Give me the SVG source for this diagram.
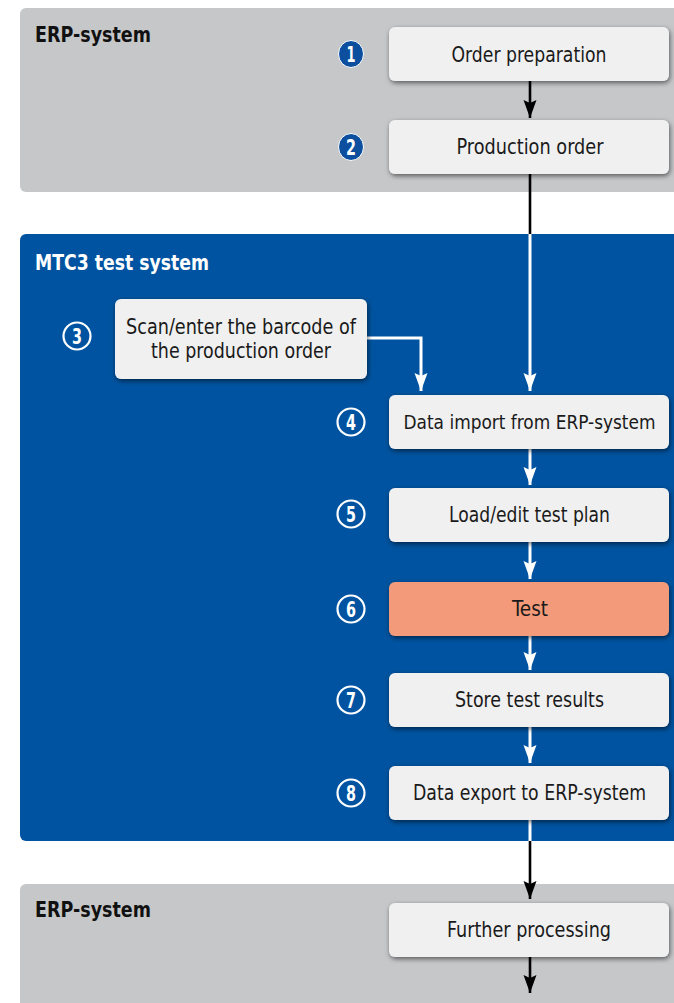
<svg xmlns="http://www.w3.org/2000/svg" width="674" height="1003" viewBox="0 0 674 1003">
<style>
.panel-gray{fill:#c6c7c9}
.panel-blue{fill:#0053a0}
.node{fill:#f0f0f0}
.node-test{fill:#f29a79}
.t{font-family:"Liberation Sans Narrow","DejaVu Sans Condensed","Liberation Sans",Arial,sans-serif;font-stretch:condensed;font-size:21px;fill:#1a1a1a;text-anchor:middle}
.t4{font-size:20px}
.title{font-family:"Liberation Sans Narrow","DejaVu Sans Condensed","Liberation Sans",Arial,sans-serif;font-stretch:condensed;font-size:22px;font-weight:bold}
.num{font-family:"Liberation Sans Narrow","DejaVu Sans Condensed","Liberation Sans",Arial,sans-serif;font-stretch:condensed;font-size:21px;font-weight:bold;fill:#fff;text-anchor:middle}
.cfill{fill:#0b4f9e;stroke:#fff;stroke-width:1}
.cline{fill:none;stroke:#fff;stroke-width:2.2}
.lb{stroke:#000;stroke-width:2.6;fill:none}
.lw{stroke:#fff;stroke-width:3;fill:none}
</style>
<defs>
<filter id="sh" x="-10%" y="-20%" width="120%" height="150%">
<feDropShadow dx="1" dy="2" stdDeviation="2.5" flood-color="#000" flood-opacity="0.55"/>
</filter>
<marker id="aw" markerUnits="userSpaceOnUse" markerWidth="20" markerHeight="16" refX="18" refY="7" orient="auto">
<path d="M0,0.5 L18,7 L0,13.5 L3,7 Z" fill="#fff"/>
</marker>
<marker id="ab2" markerUnits="userSpaceOnUse" markerWidth="20" markerHeight="16" refX="18" refY="7" orient="auto">
<path d="M0,0.5 L18,7 L0,13.5 L3,7 Z" fill="#000"/>
</marker>
</defs>

<g id="panel-erp-top">
<rect class="panel-gray" x="20" y="8" width="670" height="184" rx="6"/>
<text class="title" x="35" y="42" fill="#111" textLength="116" lengthAdjust="spacingAndGlyphs">ERP-system</text>
</g>
<g id="panel-mtc3">
<rect class="panel-blue" x="20" y="234" width="670" height="607" rx="6"/>
<text class="title" x="35" y="270" fill="#fff" textLength="174" lengthAdjust="spacingAndGlyphs">MTC3 test system</text>
</g>
<g id="panel-erp-bottom">
<rect class="panel-gray" x="20" y="884" width="670" height="130" rx="6"/>
<text class="title" x="35" y="917" fill="#111" textLength="116" lengthAdjust="spacingAndGlyphs">ERP-system</text>
</g>

<g id="connectors">
<line class="lb" x1="530" y1="81" x2="530" y2="118" marker-end="url(#ab2)"/>
<line class="lb" x1="530" y1="174" x2="530" y2="236"/>
<line class="lw" x1="530" y1="234" x2="530" y2="391" marker-end="url(#aw)"/>
<polyline class="lw" points="367,338 421,338 421,391" marker-end="url(#aw)"/>
<line class="lw" x1="530" y1="449" x2="530" y2="485" marker-end="url(#aw)"/>
<line class="lw" x1="530" y1="542" x2="530" y2="579" marker-end="url(#aw)"/>
<line class="lw" x1="530" y1="636" x2="530" y2="670" marker-end="url(#aw)"/>
<line class="lw" x1="530" y1="727" x2="530" y2="763" marker-end="url(#aw)"/>
<line class="lw" x1="530" y1="820" x2="530" y2="842"/>
<line class="lb" x1="530" y1="841" x2="530" y2="899" marker-end="url(#ab2)"/>
<line class="lb" x1="530" y1="957" x2="530" y2="993" marker-end="url(#ab2)"/>
</g>

<g id="node-1">
<rect class="node" x="389" y="27" width="280" height="54" rx="6" filter="url(#sh)"/>
<text class="t" x="529" y="62" textLength="155" lengthAdjust="spacingAndGlyphs">Order preparation</text>
<ellipse class="cfill" cx="351" cy="54" rx="12.5" ry="13.5"/>
<text class="num" x="351" y="61.5" textLength="9" lengthAdjust="spacingAndGlyphs">1</text>
</g>
<g id="node-2">
<rect class="node" x="389" y="120" width="280" height="54" rx="6" filter="url(#sh)"/>
<text class="t" x="530" y="154" textLength="147" lengthAdjust="spacingAndGlyphs">Production order</text>
<ellipse class="cfill" cx="351" cy="147" rx="12.5" ry="13.5"/>
<text class="num" x="351" y="154.5" textLength="10" lengthAdjust="spacingAndGlyphs">2</text>
</g>
<g id="node-3">
<rect class="node" x="115" y="299" width="252" height="80" rx="6" filter="url(#sh)"/>
<text class="t" x="241" y="334" textLength="230" lengthAdjust="spacingAndGlyphs">Scan/enter the barcode of</text>
<text class="t" x="241" y="358" textLength="180" lengthAdjust="spacingAndGlyphs">the production order</text>
<circle class="cline" cx="77" cy="336" r="13.5"/>
<text class="num" x="77" y="343.5" textLength="10" lengthAdjust="spacingAndGlyphs">3</text>
</g>
<g id="node-4">
<rect class="node" x="389" y="395" width="280" height="54" rx="6" filter="url(#sh)"/>
<text class="t t4" x="529.5" y="429" textLength="252" lengthAdjust="spacingAndGlyphs">Data import from ERP-system</text>
<circle class="cline" cx="351" cy="422" r="13.5"/>
<text class="num" x="351" y="429.5" textLength="10" lengthAdjust="spacingAndGlyphs">4</text>
</g>
<g id="node-5">
<rect class="node" x="389" y="488" width="280" height="54" rx="6" filter="url(#sh)"/>
<text class="t" x="529.5" y="522" textLength="161" lengthAdjust="spacingAndGlyphs">Load/edit test plan</text>
<circle class="cline" cx="351" cy="514" r="13.5"/>
<text class="num" x="351" y="521.5" textLength="10" lengthAdjust="spacingAndGlyphs">5</text>
</g>
<g id="node-6">
<rect class="node-test" x="389" y="582" width="280" height="54" rx="6" filter="url(#sh)"/>
<text class="t" x="530" y="616" textLength="36" lengthAdjust="spacingAndGlyphs">Test</text>
<circle class="cline" cx="351" cy="609" r="13.5"/>
<text class="num" x="351" y="616.5" textLength="10" lengthAdjust="spacingAndGlyphs">6</text>
</g>
<g id="node-7">
<rect class="node" x="389" y="673" width="280" height="54" rx="6" filter="url(#sh)"/>
<text class="t" x="529.5" y="707" textLength="149" lengthAdjust="spacingAndGlyphs">Store test results</text>
<circle class="cline" cx="351" cy="700" r="13.5"/>
<text class="num" x="351" y="707.5" textLength="10" lengthAdjust="spacingAndGlyphs">7</text>
</g>
<g id="node-8">
<rect class="node" x="389" y="766" width="280" height="54" rx="6" filter="url(#sh)"/>
<text class="t" x="529.5" y="800" textLength="233" lengthAdjust="spacingAndGlyphs">Data export to ERP-system</text>
<circle class="cline" cx="351" cy="793" r="13.5"/>
<text class="num" x="351" y="800.5" textLength="10" lengthAdjust="spacingAndGlyphs">8</text>
</g>
<g id="node-9">
<rect class="node" x="389" y="903" width="280" height="54" rx="6" filter="url(#sh)"/>
<text class="t" x="529" y="937" textLength="164" lengthAdjust="spacingAndGlyphs">Further processing</text>
</g>
</svg>
